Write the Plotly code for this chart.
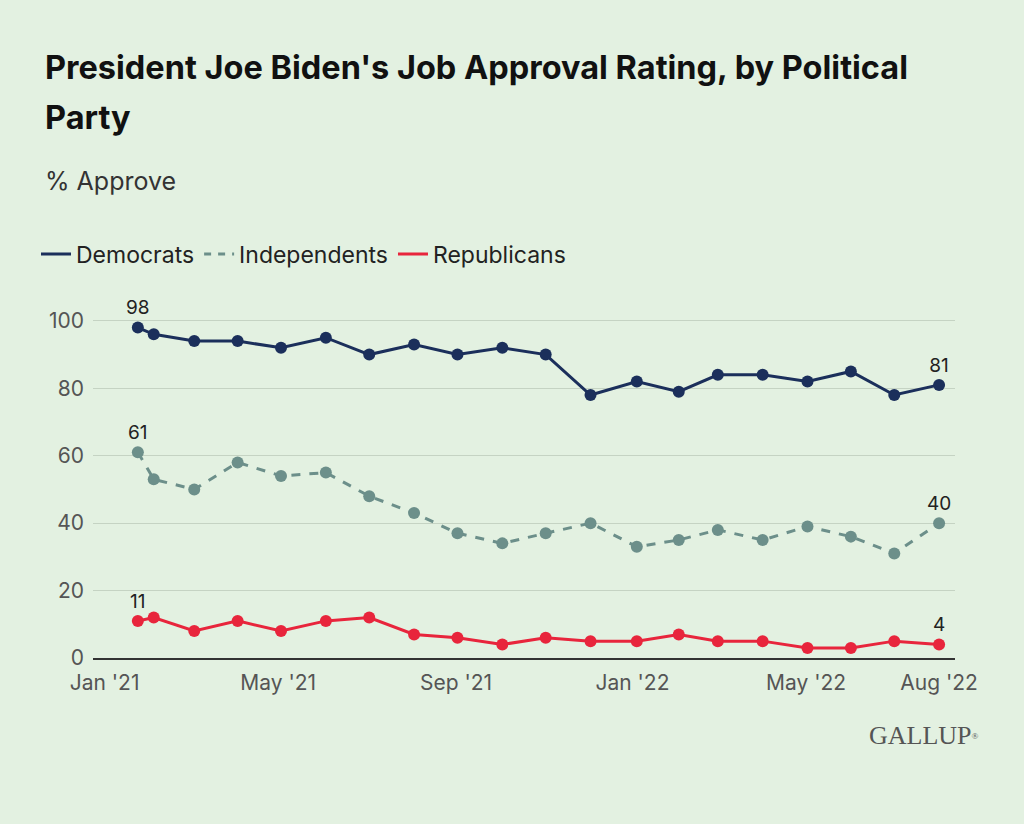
import plotly.graph_objects as go

dates = ["2021-01-24", "2021-02-04", "2021-03-04", "2021-04-03", "2021-05-03",
         "2021-06-03", "2021-07-03", "2021-08-03", "2021-09-02", "2021-10-03",
         "2021-11-02", "2021-12-03", "2022-01-04", "2022-02-02", "2022-03-01",
         "2022-04-01", "2022-05-02", "2022-06-01", "2022-07-01", "2022-08-01"]
democrats = [98, 96, 94, 94, 92, 95, 90, 93, 90, 92, 90, 78, 82, 79, 84, 84, 82, 85, 78, 81]
independents = [61, 53, 50, 58, 54, 55, 48, 43, 37, 34, 37, 40, 33, 35, 38, 35, 39, 36, 31, 40]
republicans = [11, 12, 8, 11, 8, 11, 12, 7, 6, 4, 6, 5, 5, 7, 5, 5, 3, 3, 5, 4]

tick_vals = ["2021-01-01", "2021-05-01", "2021-09-01", "2022-01-01", "2022-05-01", "2022-08-01"]
tick_text = ["Jan '21", "May '21", "Sep '21", "Jan '22", "May '22", "Aug '22"]
y_ticks = [0, 20, 40, 60, 80, 100]

BG = "#E3F1E1"
FONT = "Inter"

series = [
    ("Democrats", democrats, "#1B2F5B", "solid"),
    ("Independents", independents, "#6C8F8A", "dash"),
    ("Republicans", republicans, "#E8253C", "solid"),
]

fig = go.Figure()
for name, vals, color, dash in series:
    labels = [str(v) if i in (0, len(vals) - 1) else "" for i, v in enumerate(vals)]
    fig.add_trace(go.Scatter(
        x=dates, y=vals, name=name, mode="lines+markers+text", showlegend=False,
        line=dict(color=color, width=3, dash=dash),
        marker=dict(color=color, size=12),
        text=labels, textposition="top center",
        textfont=dict(family=FONT, size=19, color="#222222"),
        cliponaxis=False,
    ))
# legend entries (line-only symbols, like the reference)
for name, vals, color, dash in series:
    fig.add_trace(go.Scatter(
        x=[None], y=[None], name=name, mode="lines",
        line=dict(color=color, width=3, dash="7px,7px" if dash == "dash" else "solid"),
    ))

fig.update_layout(
    width=1024, height=824,
    paper_bgcolor=BG, plot_bgcolor=BG,
    margin=dict(l=93, r=69, t=304, b=166),
    font=dict(family=FONT, color="#555555"),
    showlegend=True,
    legend=dict(orientation="h", x=36 / 1024, xref="container", xanchor="left",
                y=1 - 254 / 824, yref="container", yanchor="middle",
                font=dict(family=FONT, size=23, color="#222222"),
                itemwidth=30, tracegroupgap=0, bgcolor="rgba(0,0,0,0)"),
    xaxis=dict(type="date", range=["2020-12-24", "2022-08-12"],
               tickvals=tick_vals, ticktext=tick_text,
               tickfont=dict(family=FONT, size=21, color="#555555"),
               showgrid=False, showline=True, linecolor="#333333", linewidth=2,
               ticks="", zeroline=False, ticklabelstandoff=5),
    yaxis=dict(range=[0, 105], tickvals=y_ticks,
               tickfont=dict(family=FONT, size=21, color="#555555"),
               showgrid=True, gridcolor="#C5D3C3", gridwidth=1,
               zeroline=False, showline=False, ticks="", ticklabelstandoff=8),
)

fig.add_annotation(text="<b>President Joe Biden's Job Approval Rating, by Political</b>",
                   xref="paper", yref="paper", x=-0.0585, y=1.0, xanchor="left", yanchor="middle",
                   showarrow=False, font=dict(family=FONT, size=32.5, color="#111111"),
                   yshift=(304 - 67))
fig.add_annotation(text="<b>Party</b>",
                   xref="paper", yref="paper", x=-0.0585, y=1.0, xanchor="left", yanchor="middle",
                   showarrow=False, font=dict(family=FONT, size=32.5, color="#111111"),
                   yshift=(304 - 117))
fig.add_annotation(text="% Approve",
                   xref="paper", yref="paper", x=-0.0585, y=1.0, xanchor="left", yanchor="middle",
                   showarrow=False, font=dict(family=FONT, size=25, color="#333333"),
                   yshift=(304 - 181))
fig.add_annotation(text="GALLUP<span style='font-size:13px'><sup>®</sup></span>",
                   xref="paper", yref="paper", x=1.03, y=0, xanchor="right", yanchor="middle",
                   showarrow=False, font=dict(family="Liberation Serif", size=26, color="#555555"),
                   yshift=-(735 - 658))

fig.write_html("out.html", config={"displayModeBar": False},
               post_script="document.body.style.margin='0';")
